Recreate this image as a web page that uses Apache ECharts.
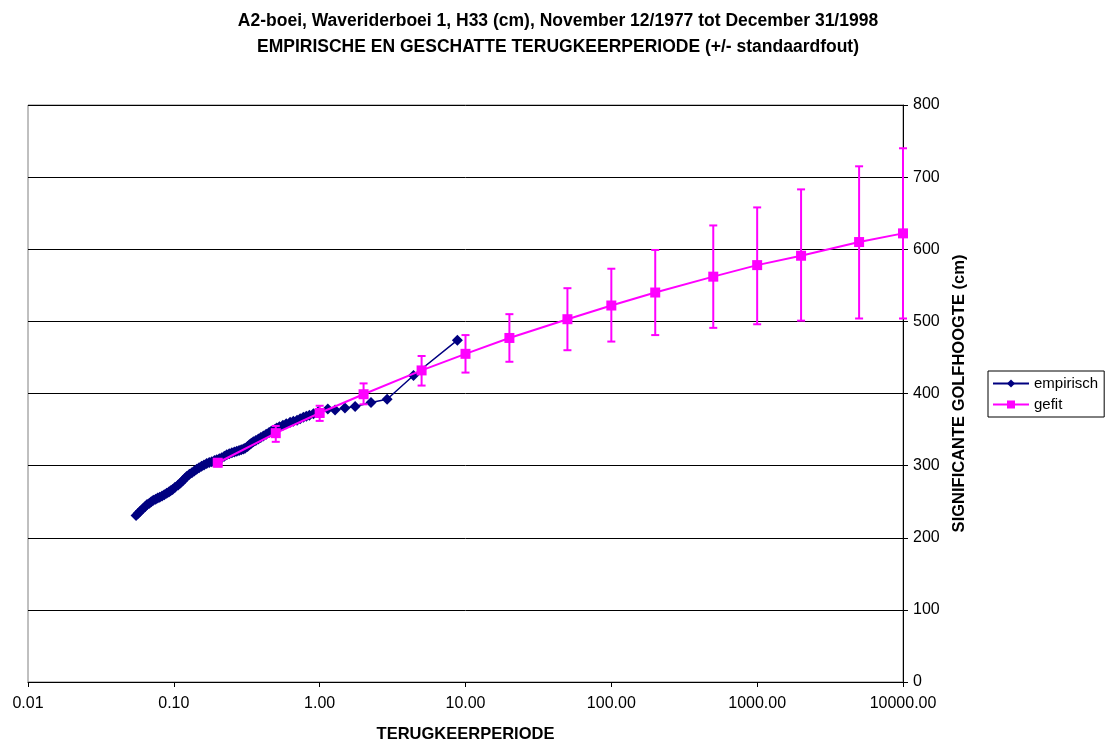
<!DOCTYPE html>
<html>
<head>
<meta charset="utf-8">
<title>Terugkeerperiode</title>
<script src="https://cdn.jsdelivr.net/npm/echarts@6/dist/echarts.min.js"></script>
<style>
  html, body { margin: 0; padding: 0; background: #fff; }
  #chart { width: 1106px; height: 742px; }
</style>
</head>
<body>
<div id="chart"></div>
<script>
// empirische terugkeerperiode [T, H33 cm]
var empirisch = [
  [0.0551, 231], [0.057, 234], [0.059, 237], [0.061, 240], [0.0634, 243],
  [0.0655, 246], [0.068, 248], [0.070, 250], [0.0723, 252], [0.075, 253.5],
  [0.0775, 255], [0.080, 256], [0.083, 258], [0.086, 259.5], [0.0893, 261.6],
  [0.0925, 263.5], [0.095, 265], [0.098, 267], [0.102, 270], [0.107, 273],
  [0.111, 276], [0.115, 279], [0.119, 282], [0.1225, 285], [0.128, 288],
  [0.133, 290], [0.138, 292.5], [0.1435, 295], [0.149, 297], [0.155, 299],
  [0.161, 301], [0.168, 303], [0.175, 304.5], [0.182, 305.5], [0.190, 307],
  [0.197, 308], [0.205, 309.5], [0.213, 311], [0.222, 313], [0.2305, 315],
  [0.240, 316.5], [0.25, 318], [0.26, 319], [0.27, 320], [0.28, 321],
  [0.29, 322], [0.30, 323], [0.308, 324], [0.32, 326.5], [0.33, 329],
  [0.34, 331], [0.351, 333], [0.365, 335], [0.38, 337], [0.395, 339],
  [0.411, 341], [0.43, 343.5], [0.45, 346], [0.465, 347.5], [0.48, 349],
  [0.495, 350.5], [0.508, 352], [0.53, 354], [0.56, 356], [0.59, 358],
  [0.627, 360], [0.66, 361.5], [0.70, 363], [0.735, 365], [0.773, 367],
  [0.81, 368.5], [0.85, 370], [0.906, 372], [0.98, 375], [1.137, 378.5],
  [1.275, 377], [1.49, 380], [1.75, 382], [2.25, 387.5], [2.9, 392],
  [4.4, 425], [8.8, 474]
];

// gefitte verdeling
var gefitT    = [0.2, 0.5, 1, 2, 5, 10, 20, 50, 100, 200, 500, 1000, 2000, 5000, 10000];
var gefitH    = [304, 345, 373, 399, 432, 455, 477, 503, 522, 540, 562, 578, 591, 610, 622];
var gefitLaag = [299, 333, 362, 385, 411, 429, 444, 460, 472, 481, 491, 496, 501, 504, 504];
var gefitHoog = [309, 355, 383, 414, 452, 481, 510, 546, 573, 599, 633, 658, 683, 715, 740];

var yTicks = [0, 100, 200, 300, 400, 500, 600, 700, 800];

var gefitData = gefitT.map(function (t, i) { return [t, gefitH[i]]; });
var foutData = gefitT.map(function (t, i) { return [t, gefitLaag[i], gefitHoog[i]]; });

var chart = echarts.init(document.getElementById('chart'));
var font = 'Liberation Sans, Arial, sans-serif';

var option = {
  animation: false,
  title: {
    text: 'A2-boei, Waveriderboei 1, H33 (cm), November 12/1977 tot December 31/1998\nEMPIRISCHE EN GESCHATTE TERUGKEERPERIODE (+/- standaardfout)',
    left: 553,
    textAlign: 'center',
    top: 3,
    textStyle: { fontFamily: font, fontSize: 17.5, fontWeight: 'bold', color: '#000', lineHeight: 26 }
  },
  legend: {
    data: ['empirisch', 'gefit'],
    orient: 'vertical',
    left: 988,
    top: 371,
    itemWidth: 36,
    itemHeight: 10,
    itemGap: 6,
    padding: [5, 6, 5, 4],
    borderColor: '#000',
    borderWidth: 1,
    borderRadius: 0,
    textStyle: { fontFamily: font, fontSize: 15, color: '#000' }
  },
  grid: {
    left: 28, right: 203, top: 105, bottom: 60,
    outerBoundsMode: 'none',
    containLabel: false,
    show: true, borderColor: '#808080', borderWidth: 1
  },
  xAxis: {
    type: 'log',
    logBase: 10,
    min: 0.01,
    max: 10000,
    name: 'TERUGKEERPERIODE',
    nameLocation: 'middle',
    nameGap: 44,
    nameTextStyle: { fontFamily: font, fontSize: 16.5, fontWeight: 'bold', color: '#000' },
    axisLine: { lineStyle: { color: '#000', width: 1 } },
    axisTick: { show: true, length: 5, lineStyle: { color: '#000' } },
    minorTick: { show: false },
    splitLine: { show: false },
    axisLabel: {
      fontFamily: font, fontSize: 16, color: '#000', margin: 14,
      formatter: function (v) { return Number(v).toFixed(2); }
    }
  },
  yAxis: {
    type: 'value',
    position: 'right',
    min: yTicks[0],
    max: yTicks[yTicks.length - 1],
    interval: 100,
    name: 'SIGNIFICANTE GOLFHOOGTE (cm)',
    nameLocation: 'middle',
    nameRotate: 90,
    nameGap: 47,
    nameTextStyle: { fontFamily: font, fontSize: 16.5, fontWeight: 'bold', color: '#000' },
    axisLine: { show: true, lineStyle: { color: '#000', width: 1 } },
    axisTick: { show: true, length: 5, lineStyle: { color: '#000' } },
    splitLine: { show: true, lineStyle: { color: '#000', width: 1 } },
    axisLabel: { fontFamily: font, fontSize: 16, color: '#000', margin: 10 }
  },
  series: [
    {
      name: 'empirisch',
      type: 'line',
      data: empirisch,
      symbol: 'diamond',
      symbolSize: 11,
      itemStyle: { color: '#000080' },
      lineStyle: { color: '#000080', width: 1.5 },
      z: 3
    },
    {
      name: 'foutbalk',
      type: 'custom',
      data: foutData,
      encode: { x: 0, y: [1, 2] },
      renderItem: function (params, api) {
        var t = api.value(0);
        var top = api.coord([t, api.value(2)]);
        var bot = api.coord([t, api.value(1)]);
        var w = 4;
        var st = { stroke: '#ff00ff', lineWidth: 2 };
        return {
          type: 'group',
          children: [
            { type: 'line', shape: { x1: top[0], y1: top[1], x2: bot[0], y2: bot[1] }, style: st },
            { type: 'line', shape: { x1: top[0] - w, y1: top[1], x2: top[0] + w, y2: top[1] }, style: st },
            { type: 'line', shape: { x1: bot[0] - w, y1: bot[1], x2: bot[0] + w, y2: bot[1] }, style: st }
          ]
        };
      },
      z: 4
    },
    {
      name: 'gefit',
      type: 'line',
      data: gefitData,
      symbol: 'rect',
      symbolSize: 10,
      itemStyle: { color: '#ff00ff' },
      lineStyle: { color: '#ff00ff', width: 2 },
      z: 5
    }
  ]
};

chart.setOption(option);
</script>
</body>
</html>
